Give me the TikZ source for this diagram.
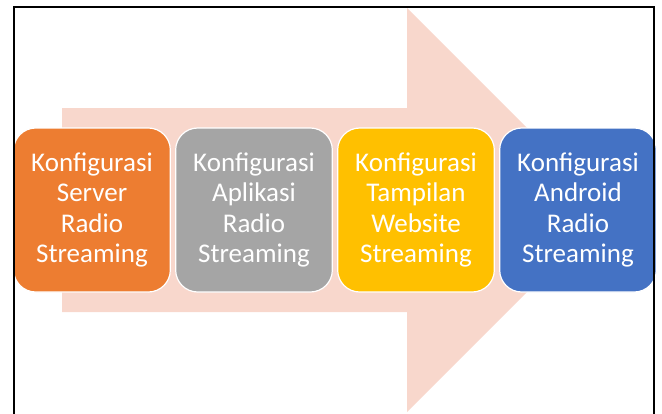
\documentclass[tikz,border=0pt]{standalone}
\usepackage{fontspec}
\setmainfont{Carlito}
\usepackage{xcolor}

\definecolor{arrowpink}{HTML}{F8D7CC}
\definecolor{stageorange}{HTML}{ED7D31}
\definecolor{stagegray}{HTML}{A5A5A5}
\definecolor{stageyellow}{HTML}{FFC000}
\definecolor{stageblue}{HTML}{4472C4}

\begin{document}
\begin{tikzpicture}[x=1pt,y=-1pt,
		stage/.style={draw=white,line width=1.2pt,rounded corners=22pt,
			minimum width=154pt,minimum height=164pt,text width=150pt,align=center,
			text=white,font=\fontsize{27}{30.5}\selectfont}]
			\useasboundingbox (0,0) rectangle (662,413);
			
			% big arrow behind the steps
			\fill[arrowpink] (62,108) -- (407,108) -- (407,8) -- (609,210)
				-- (407,412) -- (407,312) -- (62,312) -- cycle;
			
			\node[stage,fill=stageorange] (server) at (92,210) {Konfigurasi\\Server\\Radio\\Streaming};
			\node[stage,fill=stagegray] (aplikasi) at (254,210) {Konfigurasi\\Aplikasi\\Radio\\Streaming};
			\node[stage,fill=stageyellow] (website) at (416,210) {Konfigurasi\\Tampilan\\Website\\Streaming};
			\node[stage,fill=stageblue] (android) at (578,210) {Konfigurasi\\Android\\Radio\\Streaming};
			
			% frame
			\draw[line width=2pt] (14,430) -- (14,7) -- (654,7) -- (654,430);
		\end{tikzpicture}
\end{document}
